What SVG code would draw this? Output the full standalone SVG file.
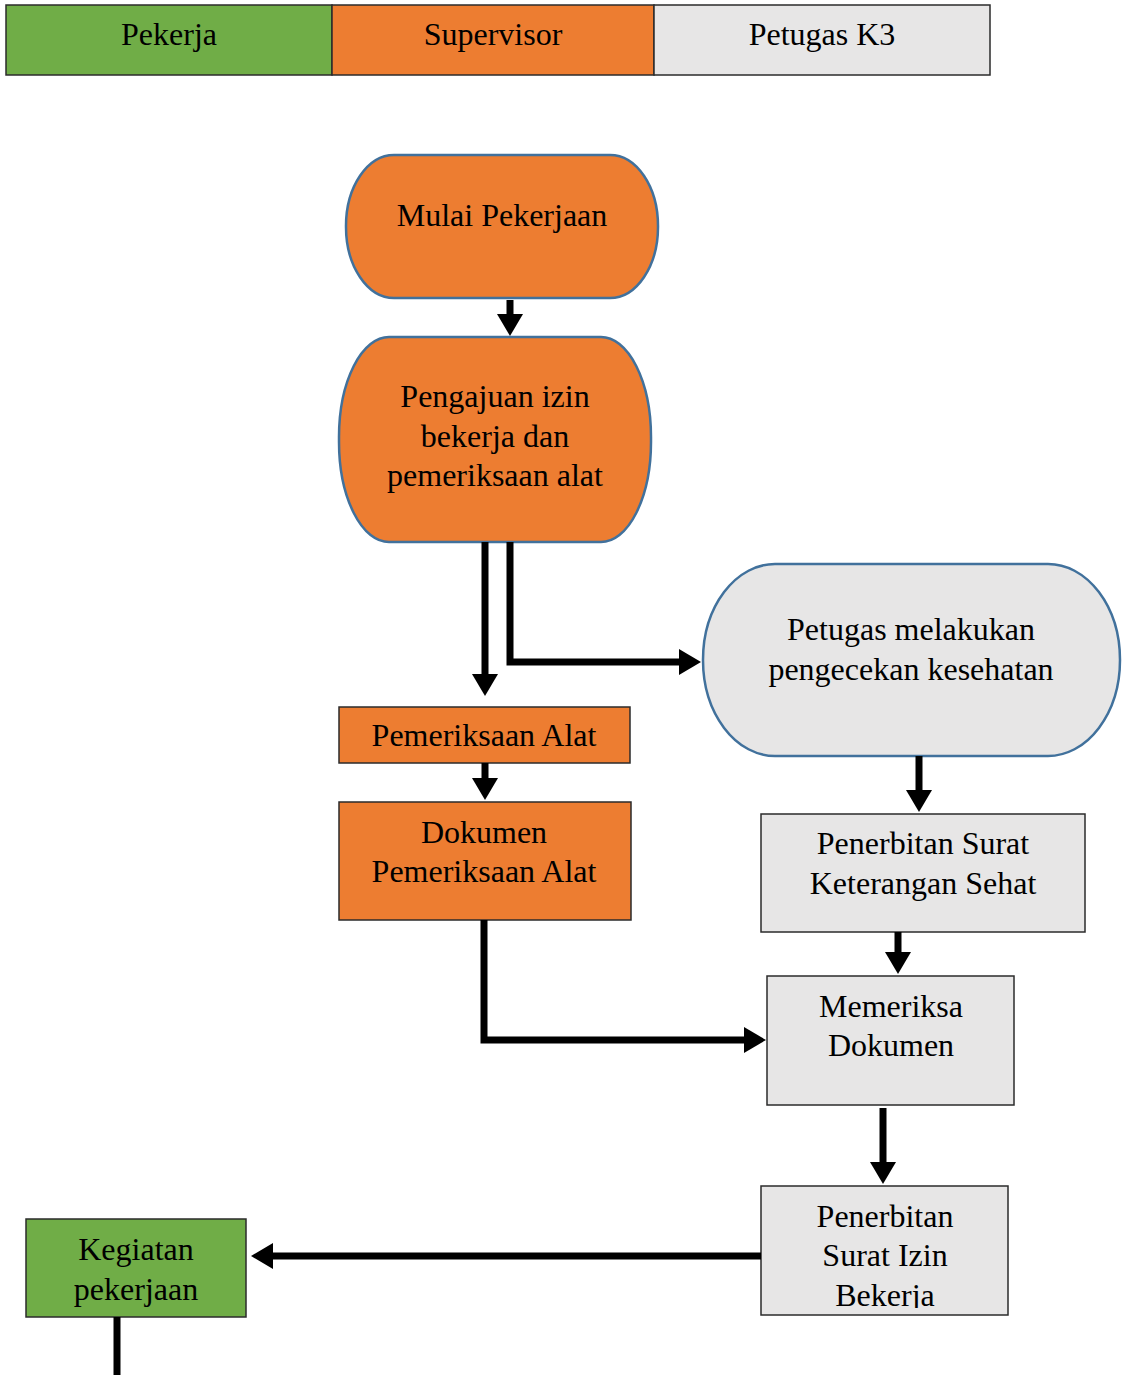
<svg xmlns="http://www.w3.org/2000/svg" width="1126" height="1375" viewBox="0 0 1126 1375">
  <style>
    text { font-family: "Liberation Serif", "Times New Roman", serif; font-size: 32px; fill: #000; text-anchor: middle; }
    .legend { font-size: 32px; }
    .orange { fill: #ED7D31; }
    .gray { fill: #E7E6E6; }
    .green { fill: #70AD47; }
    .box { stroke: #2b2b2b; stroke-width: 1.5; }
    .term { stroke: #41719C; stroke-width: 2.5; }
    .flow { fill: none; stroke: #000; stroke-width: 7; }
    .arrow { marker-end: url(#head); }
  </style>
  <defs>
    <marker id="head" markerUnits="userSpaceOnUse" markerWidth="22" markerHeight="26" viewBox="0 0 22 26" refX="1" refY="13" orient="auto">
      <path d="M0,0 L22,13 L0,26 Z" fill="#000"/>
    </marker>
    <clipPath id="clip-izin">
      <rect x="761" y="1186" width="247" height="122"/>
    </clipPath>
  </defs>

  <!-- role legend -->
  <g id="legend">
    <rect x="6" y="5" width="326" height="70" class="green box"/>
    <rect x="332" y="5" width="322" height="70" class="orange box"/>
    <rect x="654" y="5" width="336" height="70" class="gray box"/>
    <text class="legend" x="169" y="45">Pekerja</text>
    <text class="legend" x="493" y="45">Supervisor</text>
    <text class="legend" x="822" y="45">Petugas K3</text>
  </g>

  <!-- process steps -->
  <g id="mulai">
    <rect x="346" y="155" width="312" height="143" rx="48" ry="71" class="orange term"/>
    <text x="502" y="226">Mulai Pekerjaan</text>
  </g>
  <g id="pengajuan">
    <rect x="339" y="337" width="312" height="205" rx="50" ry="100" class="orange term"/>
    <text x="495" y="407">Pengajuan izin</text>
    <text x="495" y="447">bekerja dan</text>
    <text x="495" y="486">pemeriksaan alat</text>
  </g>
  <g id="pengecekan">
    <rect x="703" y="564" width="417" height="192" rx="72" ry="96" class="gray term"/>
    <text x="911" y="640">Petugas melakukan</text>
    <text x="911" y="680">pengecekan kesehatan</text>
  </g>
  <g id="pemeriksaan-alat">
    <rect x="339" y="707" width="291" height="56" class="orange box"/>
    <text x="484" y="746">Pemeriksaan Alat</text>
  </g>
  <g id="dokumen-alat">
    <rect x="339" y="802" width="292" height="118" class="orange box"/>
    <text x="484" y="843">Dokumen</text>
    <text x="484" y="882">Pemeriksaan Alat</text>
  </g>
  <g id="surat-sehat">
    <rect x="761" y="814" width="324" height="118" class="gray box"/>
    <text x="923" y="854">Penerbitan Surat</text>
    <text x="923" y="894">Keterangan Sehat</text>
  </g>
  <g id="memeriksa">
    <rect x="767" y="976" width="247" height="129" class="gray box"/>
    <text x="891" y="1017">Memeriksa</text>
    <text x="891" y="1056">Dokumen</text>
  </g>
  <g id="surat-izin">
    <rect x="761" y="1186" width="247" height="129" class="gray box"/>
    <text x="885" y="1227">Penerbitan</text>
    <text x="885" y="1266">Surat Izin</text>
    <text x="885" y="1306" clip-path="url(#clip-izin)">Bekerja</text>
  </g>
  <g id="kegiatan">
    <rect x="26" y="1219" width="220" height="98" class="green box"/>
    <text x="136" y="1260">Kegiatan</text>
    <text x="136" y="1300">pekerjaan</text>
  </g>

  <!-- connectors -->
  <g id="connectors">
    <path class="flow arrow" d="M510,300 V315"/>
    <path class="flow arrow" d="M485,542 V675"/>
    <path class="flow arrow" d="M510,542 V662 H680"/>
    <path class="flow arrow" d="M485,763 V779"/>
    <path class="flow arrow" d="M484,920 V1040 H745"/>
    <path class="flow arrow" d="M919,756 V791"/>
    <path class="flow arrow" d="M898,932 V953"/>
    <path class="flow arrow" d="M883,1108 V1163"/>
    <path class="flow arrow" d="M761,1256 H272"/>
    <path class="flow" d="M117,1317 V1375"/>
  </g>
</svg>
